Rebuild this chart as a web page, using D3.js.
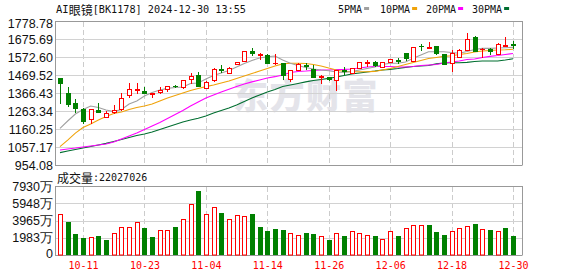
<!DOCTYPE html>
<html><head><meta charset="utf-8">
<script src="https://cdn.jsdelivr.net/npm/d3@7"></script>
<style>
html,body{margin:0;padding:0;background:#fff;}
svg{display:block;}
</style></head>
<body>
<svg id="chart" width="578" height="276"></svg>
<script>
// ---------- data ----------
const dates = ["10-08","10-09","10-10","10-11","10-14","10-15","10-16","10-17","10-18","10-21","10-22","10-23","10-24","10-25","10-28","10-29","10-30","10-31",
"11-01","11-04","11-05","11-06","11-07","11-08","11-11","11-12","11-13","11-14","11-15","11-18","11-19","11-20","11-21","11-22","11-25","11-26","11-27","11-28","11-29",
"12-02","12-03","12-04","12-05","12-06","12-09","12-10","12-11","12-12","12-13","12-16","12-17","12-18","12-19","12-20","12-23","12-24","12-25","12-26","12-27","12-30"];
const openP  = [1450.6,1364.7,1311,1275,1216,1269,1230,1256,1275,1353,1385,1379,1359,1370,1391,1409,1399,1445,1470,1393,1441,1506,1483,1531,1550,1607,1582,1584,1537,1536,1445,1498,1527,1502,1459,1456,1441,1500,1482,1511,1538,1544,1517,1546,1556,1594,1551,1636,1627,1634,1590,1537,1574,1611,1685,1617,1618,1588,1638,1646];
const highP  = [1452,1399,1330,1278,1275,1311,1263,1296,1368,1425,1422,1402,1366,1402,1408,1413,1441,1479,1488,1434,1508,1527,1514,1544,1607,1624,1596,1588,1590,1540,1498,1536,1536,1527,1470,1460,1497,1513,1510,1545,1554,1548,1542,1562,1566,1594,1628,1645,1657,1636,1591,1613,1618,1712,1693,1622,1625,1653,1690,1665];
const lowP   = [1307,1294,1259,1196,1193,1255,1227,1250,1269,1345,1368,1368,1345,1365,1378,1399,1393,1425,1406,1393,1435,1488,1483,1530,1549,1583,1560,1537,1535,1445,1437,1498,1502,1460,1425,1440,1383,1475,1482,1511,1520,1519,1513,1545,1541,1555,1551,1615,1627,1588,1530,1494,1574,1611,1608,1571,1591,1588,1637,1625];
const closeP = [1425.4,1303.4,1282.3,1208,1275,1256,1250,1269,1336,1388,1391,1369,1365,1383,1408,1405,1441,1466,1407,1431,1502,1498,1508,1544,1607,1597,1590,1540,1537,1470,1498,1531,1521,1460,1463,1445,1496,1493,1508,1542,1545,1527,1542,1560,1552,1565,1628,1633,1630,1597,1531,1594,1613,1676,1609,1620,1605,1645,1642,1640];
const ma5  = [1164,1206,1246,1272,1292,1283,1269,1260,1272,1303,1321,1349,1369,1384,1393,1398,1401,1421,1424,1447,1467,1481,1495,1515,1535,1553,1567,1574,1578,1555,1537,1524,1512,1504,1498,1494,1487,1484,1490,1498,1507,1515,1530,1537,1537,1544,1565,1584,1603,1603,1603,1598,1594,1604,1616,1622,1622,1624,1626,1628];
const ma10 = [1059,1097,1137,1169,1189,1212,1232,1249,1258,1272,1283,1292,1303,1321,1338,1352,1366,1381,1392,1403,1412,1424,1435,1450,1464,1478,1492,1507,1521,1533,1537,1537,1535,1530,1521,1510,1498,1490,1488,1488,1488,1490,1498,1507,1518,1530,1541,1553,1564,1570,1576,1580,1587,1593,1601,1607,1610,1613,1614,1617];
const ma20 = [1040,1046,1051,1057,1063,1069,1074,1086,1103,1120,1137,1157,1177,1197,1220,1243,1266,1292,1315,1338,1355,1372,1388,1404,1418,1430,1441,1452,1460,1470,1484,1490,1492,1495,1498,1498,1501,1502,1504,1510,1515,1518,1518,1518,1515,1515,1518,1524,1527,1530,1538,1544,1550,1558,1561,1570,1576,1581,1587,1593];
const ma30 = [1025,1034,1043,1051,1060,1069,1078,1089,1100,1112,1123,1132,1143,1157,1172,1186,1200,1212,1222,1235,1252,1266,1281,1298,1318,1338,1355,1372,1387,1404,1412,1421,1430,1438,1444,1450,1458,1467,1475,1481,1487,1492,1498,1502,1507,1513,1518,1521,1524,1533,1538,1540,1540,1542,1547,1550,1550,1550,1555,1563];
const volume = [4680,3830,2410,1950,2030,2180,1720,2490,3180,3180,3790,3100,2070,2870,2870,3220,4100,5860,7390,4710,5480,4870,4100,4560,4450,4710,3220,2800,2990,2870,2490,2260,2530,2410,2150,1720,2490,2180,2720,2490,2260,2180,1800,2720,2180,3070,3410,3410,3450,2640,2300,2760,3070,3300,3560,2990,2870,2760,3100,2203];
const priceTicks = [954.08,1057.17,1160.25,1263.34,1366.43,1469.52,1572.60,1675.69,1778.78];
const volTicks = [0,1983,3965,5948,7930];
const dateTicks = ["10-11","10-23","11-04","11-14","11-26","12-06","12-18","12-30"];
const maNames = ["5PMA","10PMA","20PMA","30PMA"];
const titleName = "AI眼镜", titleCode = "[BK1178] 2024-12-30 13:55";
const lastVolumeText = "22027026";

// ---------- styles ----------
const RED = "#ff0000", GREEN = "#008000";
const maColors = ["#a0a0a0","#f0a30a","#ff00ff","#006e30"];
const MONO = "'DejaVu Sans Mono','Liberation Mono',monospace";
const CJK = "'Noto Sans CJK SC','Noto Sans',sans-serif";
const SANS = "'Liberation Sans',Arial,sans-serif";

const svg = d3.select("#chart");
const L = 55, R = 522, PT = 21, PB = 165, VT = 186, VB = 255;

const x = d3.scalePoint().domain(dates).range([60, 513]);
const y = d3.scaleLinear().domain([priceTicks[0], priceTicks[priceTicks.length-1]]).range([PB, PT]);
const yv = d3.scaleLinear().domain([0, volTicks[volTicks.length-1]]).range([VB, VT]);

// watermark
svg.append("text").attr("x", 306).attr("y", 93).attr("text-anchor","middle")
  .attr("dominant-baseline","central")
  .style("font-family", CJK).style("font-weight","900").style("font-size","35px")
  .style("letter-spacing","1.5px").attr("fill","#e4e4ea").text("东方财富");

// grids
function hgrid(vals, sc, isVol){
  svg.append("g").selectAll("line").data(vals).join("line")
    .attr("x1", L).attr("x2", R)
    .attr("y1", d => Math.round(sc(d)) + 0.5).attr("y2", d => Math.round(sc(d)) + 0.5)
    .attr("stroke", (d,i) => (i===0 || i===vals.length-1) ? "#999" : "#d2d2d2")
    .attr("stroke-width", 1);
}
function vgrid(top, bot){
  svg.append("g").selectAll("line").data(dateTicks).join("line")
    .attr("x1", d => Math.round(x(d)) + 0.5).attr("x2", d => Math.round(x(d)) + 0.5)
    .attr("y1", top).attr("y2", bot)
    .attr("stroke", "#cccccc").attr("stroke-dasharray","5,3");
}
vgrid(PT+1, PB);
vgrid(VT+1, VB);
hgrid(priceTicks, y);
hgrid(volTicks, yv);
// side borders
[[PT,PB],[VT,VB]].forEach(([t,b]) => {
  svg.append("line").attr("x1", L+0.5).attr("x2", L+0.5).attr("y1", t).attr("y2", b+0.5).attr("stroke","#999");
  svg.append("line").attr("x1", R+0.5).attr("x2", R+0.5).attr("y1", t).attr("y2", b+0.5).attr("stroke","#999");
});

// MA lines
const maSeries = [ma5, ma10, ma20, ma30];
maSeries.slice().reverse().forEach((arr, ri) => {
  const i = maSeries.length - 1 - ri;
  const line = d3.line().x((d, k) => x(dates[k])).y(d => y(d));
  svg.append("path").attr("d", line(arr)).attr("fill","none")
    .attr("stroke", maColors[i]).attr("stroke-width", 1.1);
});

// candles
const candles = svg.append("g");
dates.forEach((dt, i) => {
  const cx = Math.round(x(dt));
  const o = openP[i], c = closeP[i], h = highP[i], l = lowP[i];
  const up = c >= o;
  const col = up ? RED : GREEN;
  const top = Math.round(y(Math.max(o,c))), bot = Math.round(y(Math.min(o,c)));
  candles.append("line").attr("x1", cx+0.5).attr("x2", cx+0.5)
    .attr("y1", Math.round(y(h))).attr("y2", Math.round(y(l)) + 1).attr("stroke", col);
  if (bot - top < 1) {
    candles.append("line").attr("x1", cx-2).attr("x2", cx+3)
      .attr("y1", top+0.5).attr("y2", top+0.5).attr("stroke", col);
  } else if (up) {
    candles.append("rect").attr("x", cx-1.5).attr("y", top+0.5).attr("width", 4).attr("height", bot-top)
      .attr("fill","#fff").attr("stroke", col);
  } else {
    candles.append("rect").attr("x", cx-2).attr("y", top).attr("width", 5).attr("height", Math.max(1, bot-top+1))
      .attr("fill", col);
  }
});

// volume bars
const vols = svg.append("g");
dates.forEach((dt, i) => {
  const cx = Math.round(x(dt));
  const up = i === 0 ? true : closeP[i] >= closeP[i-1];
  const ty = Math.round(yv(volume[i]));
  if (up) {
    vols.append("rect").attr("x", cx-1.5).attr("y", ty+0.5).attr("width", 4).attr("height", VB-ty-0.5)
      .attr("fill","#fff").attr("stroke", RED);
  } else {
    vols.append("rect").attr("x", cx-2).attr("y", ty).attr("width", 5).attr("height", VB-ty)
      .attr("fill", GREEN);
  }
});

// y axis labels
const yAx = svg.append("g").attr("transform", `translate(${L},0)`)
  .call(d3.axisLeft(y).tickValues(priceTicks).tickFormat(d3.format(".2f")).tickSize(0).tickPadding(2));
yAx.select(".domain").remove();
yAx.selectAll("text").style("font-family", SANS).style("font-size","12.5px").attr("fill","#111")
  .attr("dy", (d,i) => i === priceTicks.length-1 ? "0.5em" : "0.34em");

const vAx = svg.append("g").attr("transform", `translate(${L},0)`)
  .call(d3.axisLeft(yv).tickValues(volTicks).tickFormat(d => d === 0 ? "0" : d + "万").tickSize(0).tickPadding(2));
vAx.select(".domain").remove();
vAx.selectAll("text").style("font-family", SANS).style("font-size","12.5px").attr("fill","#111")
  .attr("dy", (d,i) => i === 0 ? "0.2em" : "0.34em");

// x axis labels
const xAx = svg.append("g").attr("transform", `translate(0,${VB})`)
  .call(d3.axisBottom(x).tickValues(dateTicks).tickSize(0).tickPadding(7));
xAx.select(".domain").remove();
xAx.selectAll("text").style("font-family", MONO).style("font-size","10px").attr("fill", RED);

// title
const t = svg.append("text").attr("x", 56).attr("y", 8.5).attr("dominant-baseline","central").attr("fill","#111");
t.append("tspan").style("font-family", MONO).style("font-size","10.5px").text("AI".slice(0,2));
t.append("tspan").style("font-family", CJK).style("font-size","12px").text(titleName.slice(2));
t.append("tspan").style("font-family", MONO).style("font-size","10.2px").text(titleCode);

// legend
const legX = [338, 380, 426, 472];
maNames.forEach((n, i) => {
  const tx = svg.append("text").attr("x", legX[i]).attr("y", 9).attr("dominant-baseline","central")
    .style("font-family", MONO).style("font-size","10px").attr("fill","#111").text(n);
  const w = tx.node().getComputedTextLength();
  svg.append("rect").attr("x", legX[i] + w + 2).attr("y", 7).attr("width", 5).attr("height", 3).attr("fill", maColors[i]);
});

// volume label
const vl = svg.append("text").attr("x", 57).attr("y", 177).attr("dominant-baseline","central").attr("fill","#111");
vl.append("tspan").style("font-family", CJK).style("font-size","12px").text("成交量");
vl.append("tspan").style("font-family", MONO).style("font-size","10px").text(":" + lastVolumeText);
</script>
</body></html>
